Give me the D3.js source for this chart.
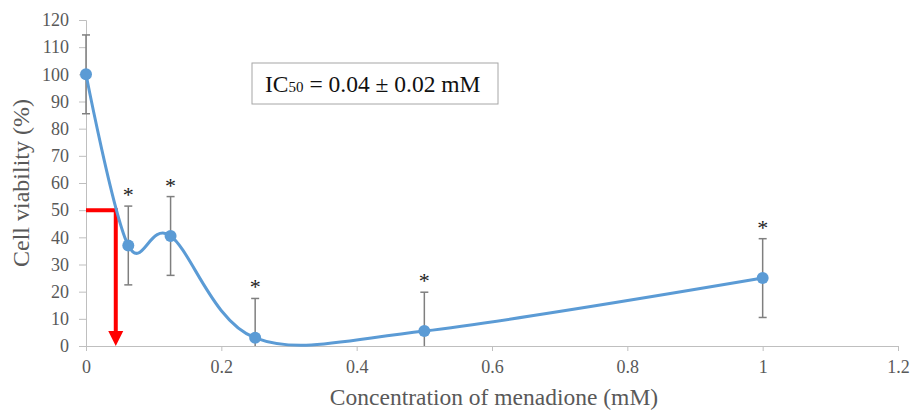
<!DOCTYPE html>
<html>
<head>
<meta charset="utf-8">
<script src="https://cdn.jsdelivr.net/npm/d3@7"></script>
<style>
  body { margin: 0; background: #fff; }
  text { font-family: "Liberation Serif", "Times New Roman", serif; }
</style>
</head>
<body>
<div id="main"></div>
<script>
const ctx = {
    w: 912,
    h: 412,
    left: 86,
    right: 898,
    top: 20,
    bottom: 346,
};

// data
const concentrations = [0, 0.0625, 0.125, 0.25, 0.5, 1];
const viability = [100, 37, 40.5, 3, 5.5, 25];
const sd = [14.5, 14.5, 14.5, 14.5, 14.3, 14.5];
const significant = [false, true, true, true, true, true];
const xTicks = [0, 0.2, 0.4, 0.6, 0.8, 1, 1.2];
const yTicks = [0, 10, 20, 30, 40, 50, 60, 70, 80, 90, 100, 110, 120];
const ic50 = 0.044;

const grey = "#595959";
const axisGrey = "#bfbfbf";
const blue = "#5b9bd5";
const serif = "Liberation Serif";

function styleAxis(g) {
    g.attr("font-family", null).attr("font-size", null);
    g.selectAll("text")
        .style("fill", grey)
        .style("font-family", serif)
        .style("font-size", "18px");
    g.selectAll("line").style("stroke", axisGrey);
    g.select(".domain").style("stroke", axisGrey);
}

function createChart(svg) {
    let x = d3.scaleLinear().domain([0, 1.2]).range([ctx.left, ctx.right]);
    let y = d3.scaleLinear().domain([0, 120]).range([ctx.bottom, ctx.top]);

    // y axis
    svg.append("g")
        .attr("transform", `translate(${ctx.left},0)`)
        .call(d3.axisLeft(y).tickValues(yTicks).tickSize(7).tickPadding(10))
        .call(styleAxis);

    // x axis
    svg.append("g")
        .attr("transform", `translate(0,${ctx.bottom})`)
        .call(d3.axisBottom(x).tickValues(xTicks).tickFormat(d3.format("")).tickSize(5).tickPadding(9))
        .call(styleAxis);

    // axis titles
    svg.append("text")
        .attr("transform", `translate(29,${(ctx.top + ctx.bottom) / 2}) rotate(-90)`)
        .attr("text-anchor", "middle")
        .style("font-size", "24px")
        .style("fill", grey)
        .text("Cell viability (%)");
    svg.append("text")
        .attr("x", 494)
        .attr("y", 405)
        .attr("text-anchor", "middle")
        .style("font-size", "23.5px")
        .style("fill", grey)
        .text("Concentration of menadione (mM)");

    let pts = concentrations.map((c, i) => ({ c, v: viability[i], sd: sd[i], sig: significant[i] }));

    // error bars (clipped at 0)
    let eb = svg.append("g").attr("class", "errors")
        .selectAll("g").data(pts).enter().append("g");
    eb.append("line")
        .attr("x1", d => x(d.c)).attr("x2", d => x(d.c))
        .attr("y1", d => y(d.v + d.sd)).attr("y2", d => y(Math.max(0, d.v - d.sd)))
        .style("stroke", "#7f7f7f").style("stroke-width", 1.5);
    eb.append("line")
        .attr("x1", d => x(d.c) - 4).attr("x2", d => x(d.c) + 4)
        .attr("y1", d => y(d.v + d.sd)).attr("y2", d => y(d.v + d.sd))
        .style("stroke", "#7f7f7f").style("stroke-width", 1.5);
    eb.filter(d => d.v - d.sd > 0).append("line")
        .attr("x1", d => x(d.c) - 4).attr("x2", d => x(d.c) + 4)
        .attr("y1", d => y(d.v - d.sd)).attr("y2", d => y(d.v - d.sd))
        .style("stroke", "#7f7f7f").style("stroke-width", 1.5);

    // asterisks
    svg.append("g").selectAll("text")
        .data(pts.filter(d => d.sig)).enter().append("text")
        .attr("x", d => x(d.c))
        .attr("y", d => y(d.v + d.sd) - 4)
        .attr("text-anchor", "middle")
        .style("font-size", "22px")
        .style("fill", "#222")
        .text("*");

    // red IC50 arrow
    svg.append("path")
        .attr("d", `M${x(0)},${y(50)} H${x(ic50)} V${y(0) - 12}`)
        .style("fill", "none")
        .style("stroke", "#ff0000")
        .style("stroke-width", 4);
    svg.append("path")
        .attr("d", `M${x(ic50) - 7.5},${y(0) - 15} L${x(ic50) + 7.5},${y(0) - 15} L${x(ic50)},${y(0)} Z`)
        .style("fill", "#ff0000");

    // smoothed line
    let line = d3.line()
        .x(d => x(d.c))
        .y(d => y(d.v))
        .curve(d3.curveCardinal.tension(0));
    svg.append("path")
        .datum(pts)
        .attr("d", line)
        .style("fill", "none")
        .style("stroke", blue)
        .style("stroke-width", 3);

    svg.append("g").selectAll("circle")
        .data(pts).enter().append("circle")
        .attr("cx", d => x(d.c))
        .attr("cy", d => y(d.v))
        .attr("r", 6)
        .style("fill", blue);

    // IC50 box
    let box = svg.append("g").attr("transform", "translate(252,63)");
    box.append("rect")
        .attr("width", 246).attr("height", 41)
        .style("fill", "#fff")
        .style("stroke", "#a6a6a6")
        .style("stroke-width", 1);
    let t = box.append("text")
        .attr("x", 13).attr("y", 29)
        .style("font-size", "23.5px")
        .style("fill", "#111");
    t.append("tspan").text("IC");
    t.append("tspan").style("font-size", "15px").text("50");
    t.append("tspan").text(" = 0.04 ± 0.02 mM");
}

function createViz() {
    let svgEl = d3.select("#main").append("svg");
    svgEl.attr("width", ctx.w);
    svgEl.attr("height", ctx.h);
    createChart(svgEl);
}

createViz();
</script>
</body>
</html>
